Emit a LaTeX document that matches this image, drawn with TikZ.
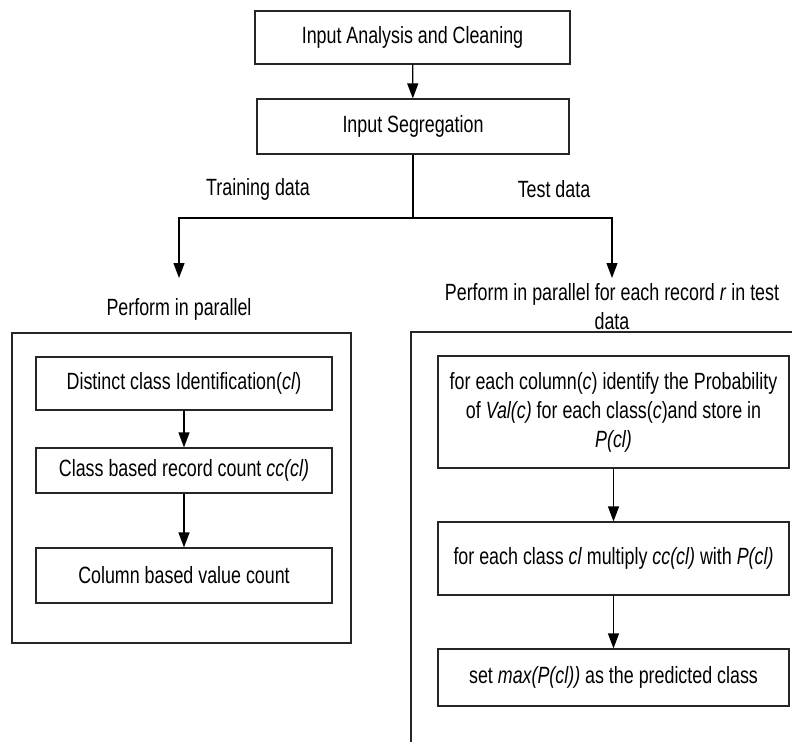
\documentclass[tikz,border=0pt]{standalone}
\usepackage{fontspec}
\setmainfont{Liberation Sans}[FakeStretch=0.76]
\usetikzlibrary{arrows.meta}

\tikzset{box/.style={draw=black!85,rectangle,align=center,inner sep=0pt},
	lbl/.style={inner sep=0pt,align=center},
	arr/.style={-{Triangle[length=15pt,width=11pt]}}}

\begin{document}
\begin{tikzpicture}[x=1pt,y=-1pt,line width=1.2pt,font=\fontsize{23.5}{29}\selectfont]
\useasboundingbox (0,0) rectangle (792,742);
\node[box,minimum width=315pt,minimum height=53pt] (clean) at (412.5,37.5) {Input Analysis and Cleaning};
\node[box,minimum width=312pt,minimum height=55pt] (segr) at (413,126.5) {Input Segregation};

\coordinate (split) at (413,218);
\node[lbl] (trainlbl) at (258,189) {Training data};
\node[lbl] (testlbl) at (554,189) {Test data};
\node[lbl,anchor=north] (trainhd) at (179,298) {Perform in parallel};
\node[lbl,anchor=north] (testhd) at (612,283) {Perform in parallel for each record \textit{r} in test\\data};

\draw[black!85] (12,333) rectangle (351,643);
\draw[black!85] (792,332) -| (411,742);

\node[box,minimum width=296pt,minimum height=53pt] (distinct) at (184,383.5) {Distinct class Identification(\textit{cl})};
\node[box,minimum width=296pt,minimum height=45pt] (ccount) at (184,470.5) {Class based record count \textit{cc(cl)}};
\node[box,minimum width=296pt,minimum height=55pt] (vcount) at (184,575.5) {Column based value count};

\node[box,minimum width=351pt,minimum height=112pt] (prob) at (613.5,412) {for each column(\textit{c}) identify the Probability\\of \textit{Val(c)} for each class(\textit{c})and store in\\\textit{P(cl)}};
\node[box,minimum width=351pt,minimum height=73pt] (mult) at (613.5,558.5) {for each class \textit{cl} multiply \textit{cc(cl)} with \textit{P(cl)}};
\node[box,minimum width=351pt,minimum height=57pt] (pred) at (613.5,677.5) {set \textit{max(P(cl))} as the predicted class};

\draw (segr) -- (split);
\draw[arr,shorten >=20pt] (split) -| (trainhd);
\draw[arr,shorten >=5pt] (split) -| (testhd);
\foreach \a/\b in {clean/segr,distinct/ccount,ccount/vcount,prob/mult,mult/pred}
	\draw[arr] (\a) -- (\b);
\end{tikzpicture}
\end{document}
